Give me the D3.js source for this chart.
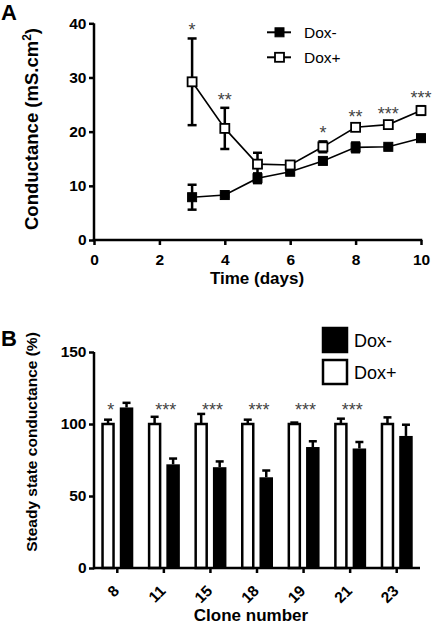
<!DOCTYPE html>
<html><head><meta charset="utf-8">
<script src="https://cdn.jsdelivr.net/npm/d3@7"></script>
<style>
body{margin:0;background:#fff;}
svg{display:block;font-family:Arial,"Liberation Sans",sans-serif;}
.axis path,.axis line{stroke:#000;stroke-width:2.5px;}
.axis text{font-weight:bold;font-size:15.5px;fill:#000;}
</style></head><body>
<svg id="c" width="432" height="624"></svg>
<script>
// ---------- Panel A data ----------
const days = [3,4,5,6,7,8,9,10];
const doxMinus = [7.9,8.3,11.4,12.6,14.6,17.1,17.2,18.8];
const doxMinusErr = [2.3,0.3,0.9,0.4,0.4,0.9,0.3,0.3];
const doxPlus = [29.2,20.6,14.0,13.85,17.2,20.8,21.3,23.9];
const doxPlusErr = [8.0,3.8,2.1,0.5,1.0,0.5,0.5,0.8];
const starsA = ["*","**","","","*","**","***","***"];
const xTicksA = [0,2,4,6,8,10];
const yTicksA = [0,10,20,30,40];

// ---------- Panel B data ----------
const clones = ["8","11","15","18","19","21","23"];
const bDoxPlus = [100,100,100,100,100,100,100];
const bDoxPlusErr = [3,5,7,3,1,3.7,4.6];
const bDoxMinus = [111.5,72,70,63,84,83,91.7];
const bDoxMinusErr = [3.2,4,4,4.7,4,4.5,7.8];
const starsB = ["*","***","***","***","***","***",""];
const yTicksB = [0,50,100,150];

const svg = d3.select("#c");
const STAR_FILL = "#444";

// ================= Panel A =================
const xA = d3.scaleLinear().domain([0,10]).range([94,421]);
const yA = d3.scaleLinear().domain([0,40]).range([240,23.3]);

const gxA = svg.append("g").attr("class","axis").attr("transform","translate(0,240)")
  .call(d3.axisBottom(xA).tickValues(xTicksA).tickSize(5).tickPadding(9).tickSizeOuter(0));
const gyA = svg.append("g").attr("class","axis").attr("transform","translate(94,0)")
  .call(d3.axisLeft(yA).tickValues(yTicksA).tickSize(5).tickPadding(2.5).tickSizeOuter(0));
gxA.select(".domain").attr("d",`M${xA(0)-1.25},0H${xA(10)+1.25}`);
gyA.select(".domain").attr("d",`M0,${yA(40)}V${yA(0)+1.25}`);

const seriesA = [
  {name:"Dox-", vals:doxMinus, errs:doxMinusErr, fill:"#000"},
  {name:"Dox+", vals:doxPlus, errs:doxPlusErr, fill:"#fff"}
];
const line = d3.line().x(d=>xA(d[0])).y(d=>yA(d[1]));
seriesA.forEach(s=>{
  const pts = days.map((d,i)=>[d,s.vals[i],s.errs[i]]);
  svg.append("path").attr("d",line(pts)).attr("fill","none").attr("stroke","#000").attr("stroke-width",1.6);
  const eg = svg.append("g");
  pts.forEach(p=>{
    const x=xA(p[0]), y1=yA(p[1]+p[2]), y0=yA(p[1]-p[2]);
    eg.append("line").attr("x1",x).attr("x2",x).attr("y1",y1).attr("y2",y0).attr("stroke","#000").attr("stroke-width",2.5);
    eg.append("line").attr("x1",x-4.5).attr("x2",x+4.5).attr("y1",y1).attr("y2",y1).attr("stroke","#000").attr("stroke-width",2.5);
    eg.append("line").attr("x1",x-4.5).attr("x2",x+4.5).attr("y1",y0).attr("y2",y0).attr("stroke","#000").attr("stroke-width",2.5);
  });
  svg.append("g").selectAll("rect").data(pts).join("rect")
    .attr("x",d=>xA(d[0])-4.5).attr("y",d=>yA(d[1])-4.5).attr("width",9).attr("height",9)
    .attr("fill",s.fill).attr("stroke","#000").attr("stroke-width",s.fill==="#fff"?1.8:1);
});
// stars A
svg.append("g").selectAll("text").data(days.map((d,i)=>({d,i}))).join("text")
  .attr("x",o=>xA(o.d)).attr("y",o=>yA(doxPlus[o.i]+doxPlusErr[o.i])-2)
  .attr("text-anchor","middle").attr("font-size",18).attr("fill",STAR_FILL)
  .text(o=>starsA[o.i]);

// legend A
const legA = svg.append("g");
seriesA.forEach((s,i)=>{
  const y = 32.3 + i*25;
  legA.append("line").attr("x1",267).attr("x2",291).attr("y1",y).attr("y2",y).attr("stroke","#000").attr("stroke-width",2);
  legA.append("rect").attr("x",275).attr("y",y-4.5).attr("width",9).attr("height",9)
    .attr("fill",s.fill).attr("stroke","#000").attr("stroke-width",s.fill==="#fff"?1.8:1);
  legA.append("text").attr("x",304).attr("y",y+5.5).attr("font-size",15.5).text(s.name);
});

// titles A
svg.append("text").attr("x",257).attr("y",284).attr("text-anchor","middle")
  .attr("font-weight","bold").attr("font-size",17).text("Time (days)");
const tA = svg.append("text").attr("transform","translate(38,129) rotate(-90)").attr("text-anchor","middle")
  .attr("font-weight","bold").attr("font-size",18.5);
tA.append("tspan").text("Conductance (mS.cm");
tA.append("tspan").attr("dy",-7).attr("font-size",12).text("2");
tA.append("tspan").attr("dy",7).text(")");
svg.append("text").attr("x",1).attr("y",20).attr("font-weight","bold").attr("font-size",22).text("A");

// ================= Panel B =================
const xB = d3.scaleBand().domain(clones).range([94,420]).padding(0);
const groups = ["Dox+","Dox-"];
const xB1 = d3.scaleBand().domain(groups).range([-16,16]).paddingInner(0.27);
const yB = d3.scaleLinear().domain([0,150]).range([568,352]);

const seriesB = [
  {name:"Dox+", vals:bDoxPlus, errs:bDoxPlusErr, fill:"#fff"},
  {name:"Dox-", vals:bDoxMinus, errs:bDoxMinusErr, fill:"#000"}
];
seriesB.forEach(s=>{
  const g = svg.append("g");
  clones.forEach((c,i)=>{
    const cx = xB(c)+xB.bandwidth()/2 + xB1(s.name);
    const w = xB1.bandwidth();
    const yt = yB(s.vals[i]);
    const ye = yB(s.vals[i]+s.errs[i]);
    const mid = cx + w/2;
    g.append("line").attr("x1",mid).attr("x2",mid).attr("y1",yt).attr("y2",ye).attr("stroke","#000").attr("stroke-width",2.5);
    g.append("line").attr("x1",mid-4).attr("x2",mid+4).attr("y1",ye).attr("y2",ye).attr("stroke","#000").attr("stroke-width",2.5);
    if(s.fill==="#fff"){
      g.append("rect").attr("x",cx+1.25).attr("y",yt).attr("width",w-2.5).attr("height",yB(0)-yt)
        .attr("fill","#fff").attr("stroke","#000").attr("stroke-width",2.5);
    } else {
      g.append("rect").attr("x",cx).attr("y",yt).attr("width",w).attr("height",yB(0)-yt).attr("fill","#000");
    }
  });
});

const gxB = svg.append("g").attr("class","axis").attr("transform","translate(0,568)")
  .call(d3.axisBottom(xB).tickSize(5).tickPadding(4).tickSizeOuter(0));
gxB.selectAll("text").attr("text-anchor","end").attr("x",0).attr("y",0).attr("dy","0.35em")
  .attr("transform","translate(-1,20) rotate(-45)").attr("font-size",15.5);
gxB.select(".domain").attr("d",`M94,0H420`);
const gyB = svg.append("g").attr("class","axis").attr("transform","translate(94,0)")
  .call(d3.axisLeft(yB).tickValues(yTicksB).tickSize(5).tickPadding(2.5).tickSizeOuter(0));
gyB.select(".domain").attr("d",`M0,${yB(150)}V${yB(0)+1.25}`);

// stars B (shifted left when the Dox- bar rises above the Dox+ bar)
svg.append("g").selectAll("text").data(clones).join("text")
  .attr("x",(c,i)=>xB(c)+xB.bandwidth()/2 - (bDoxMinus[i]>bDoxPlus[i]?6.5:-2))
  .attr("y",yB(113)+10.5)
  .attr("text-anchor","middle").attr("font-size",18).attr("fill",STAR_FILL)
  .text((c,i)=>starsB[i]);

// legend B
const legB = [{name:"Dox-",fill:"#000"},{name:"Dox+",fill:"#fff"}];
legB.forEach((l,i)=>{
  const y = 328 + i*32;
  svg.append("rect").attr("x",323).attr("y",y).attr("width",24).attr("height",24)
    .attr("fill",l.fill).attr("stroke","#000").attr("stroke-width",2.5);
  svg.append("text").attr("x",354).attr("y",y+18.5).attr("font-size",18).text(l.name);
});

// titles B
svg.append("text").attr("x",251).attr("y",621).attr("text-anchor","middle")
  .attr("font-weight","bold").attr("font-size",17).text("Clone number");
svg.append("text").attr("transform","translate(37,442) rotate(-90)").attr("text-anchor","middle")
  .attr("font-weight","bold").attr("font-size",15.5).text("Steady state conductance (%)");
svg.append("text").attr("x",1).attr("y",346).attr("font-weight","bold").attr("font-size",22).text("B");
</script></body></html>
